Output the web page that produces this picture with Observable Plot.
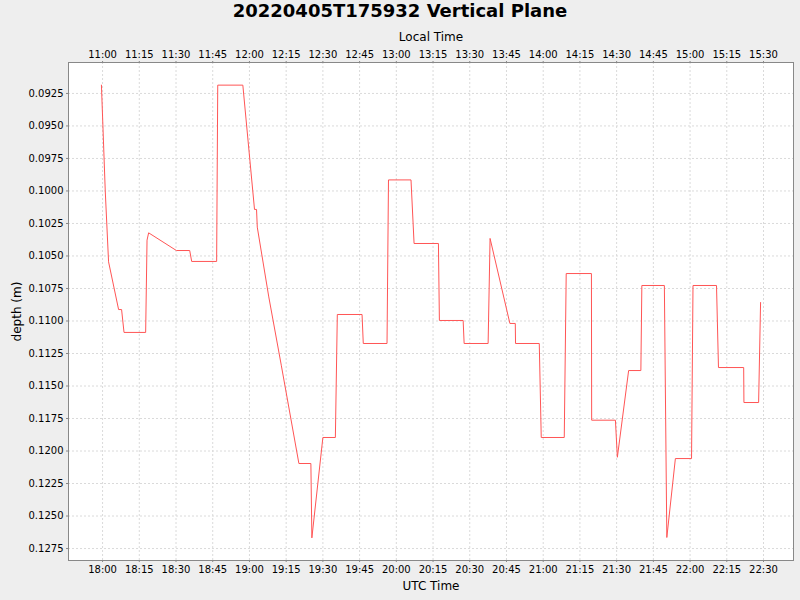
<!DOCTYPE html>
<html>
<head>
<meta charset="utf-8">
<script src="https://cdn.jsdelivr.net/npm/d3@7"></script>
<script src="https://cdn.jsdelivr.net/npm/@observablehq/plot@0.6"></script>
<style>
  html, body { margin: 0; padding: 0; background: #eeeeee; }
  #title { height: 24px; line-height: 25px; text-align: center; font: bold 18px "DejaVu Sans", sans-serif; color: #000; }
  g[aria-label$="axis label"] { font-size: 12px; }
</style>
</head>
<body>
<div id="title">20220405T175932 Vertical Plane</div>
<div id="chart"></div>
<script>
// UTC sample times and depths (m)
const times = [
  "17:59:32","18:01:06","18:02:27","18:06:33","18:07:46","18:08:46","18:17:36","18:18:10","18:18:49","18:30:10",
  "18:35:36","18:36:24","18:46:36","18:47:03","18:57:18","19:02:04","19:02:54","19:03:12","19:07:54","19:13:00",
  "19:20:12","19:25:06","19:25:30","19:30:00","19:35:06","19:35:54","19:46:00","19:46:30","19:56:12","19:56:48",
  "20:06:00","20:07:15","20:17:12","20:17:36","20:27:18","20:27:42","20:37:30","20:38:18","20:46:24","20:48:36",
  "20:48:42","20:58:24","20:59:12","21:08:36","21:09:24","21:19:42","21:19:48","21:29:30","21:30:18","21:34:54",
  "21:39:54","21:40:18","21:49:30","21:50:30","21:54:00","22:00:36","22:01:12","22:10:48","22:11:36","22:21:54",
  "22:22:00","22:28:00","22:28:48"
];
const depths = [
  0.09186,0.10000,0.10545,0.10912,0.10912,0.11088,0.11088,0.10378,0.10322,0.10458,
  0.10458,0.10542,0.10542,0.09186,0.09186,0.10142,0.10142,0.10278,0.10815,0.11340,
  0.12096,0.12096,0.12668,0.11896,0.11896,0.10950,0.10950,0.11173,0.11173,0.09915,
  0.09915,0.10404,0.10404,0.10996,0.10996,0.11173,0.11173,0.10365,0.11019,0.11019,
  0.11173,0.11173,0.11896,0.11896,0.10635,0.10635,0.11763,0.11763,0.12048,0.11381,
  0.11381,0.10727,0.10727,0.12665,0.12058,0.12058,0.10727,0.10727,0.11358,0.11358,
  0.11627,0.11627,0.10858
];
const utcTicks = ["18:00","18:15","18:30","18:45","19:00","19:15","19:30","19:45","20:00","20:15",
  "20:30","20:45","21:00","21:15","21:30","21:45","22:00","22:15","22:30"];
const localTicks = ["11:00","11:15","11:30","11:45","12:00","12:15","12:30","12:45","13:00","13:15",
  "13:30","13:45","14:00","14:15","14:30","14:45","15:00","15:15","15:30"];
const depthTicks = [0.0925,0.0950,0.0975,0.1000,0.1025,0.1050,0.1075,0.1100,0.1125,0.1150,
  0.1175,0.1200,0.1225,0.1250,0.1275];
const xDomain = ["17:46:05","22:42:15"];
const yDomain = [0.09012,0.12842];

function toDate(s) {
  const p = s.split(":").map(Number);
  return new Date(Date.UTC(2022, 3, 5, p[0], p[1], p[2] || 0));
}
const data = times.map((t, i) => ({time: toDate(t), depth: depths[i]}));
const tickDates = utcTicks.map(toDate);
const localMap = new Map(tickDates.map((d, i) => [+d, localTicks[i]]));
const utcMap = new Map(tickDates.map((d, i) => [+d, utcTicks[i]]));

const gridStyle = {stroke: "#dadada", strokeOpacity: 1, strokeDasharray: "2,2", strokeWidth: 1};

const chart = Plot.plot({
  width: 800,
  height: 576,
  marginTop: 38,
  marginBottom: 40,
  marginLeft: 68,
  marginRight: 7,
  style: {background: "#eeeeee", fontFamily: "DejaVu Sans, sans-serif", fontSize: "10px", color: "#000"},
  x: {type: "utc", domain: xDomain.map(toDate)},
  y: {domain: yDomain, reverse: true},
  marks: [
    Plot.frame({fill: "white", stroke: null}),
    Plot.gridX(tickDates, gridStyle),
    Plot.gridY(depthTicks, gridStyle),
    Plot.axisX(tickDates, {anchor: "bottom", tickFormat: d => utcMap.get(+d), tickSize: 2, tickPadding: 3,
      stroke: "#888", label: "UTC Time", labelAnchor: "center", labelArrow: "none", labelOffset: 29}),
    Plot.axisX(tickDates, {anchor: "top", tickFormat: d => localMap.get(+d), tickSize: 2, tickPadding: 3,
      stroke: "#888", label: "Local Time", labelAnchor: "center", labelArrow: "none", labelOffset: 30}),
    Plot.axisY(depthTicks, {anchor: "left", tickFormat: d3.format(".4f"), tickSize: 2, tickPadding: 3,
      stroke: "#888", label: "depth (m)", labelAnchor: "center", labelArrow: "none", labelOffset: 56}),
    Plot.line(data, {x: "time", y: "depth", stroke: "#ff5555", strokeWidth: 1}),
    Plot.frame({stroke: "#888"})
  ]
});
document.getElementById("chart").appendChild(chart);
</script>
</body>
</html>
